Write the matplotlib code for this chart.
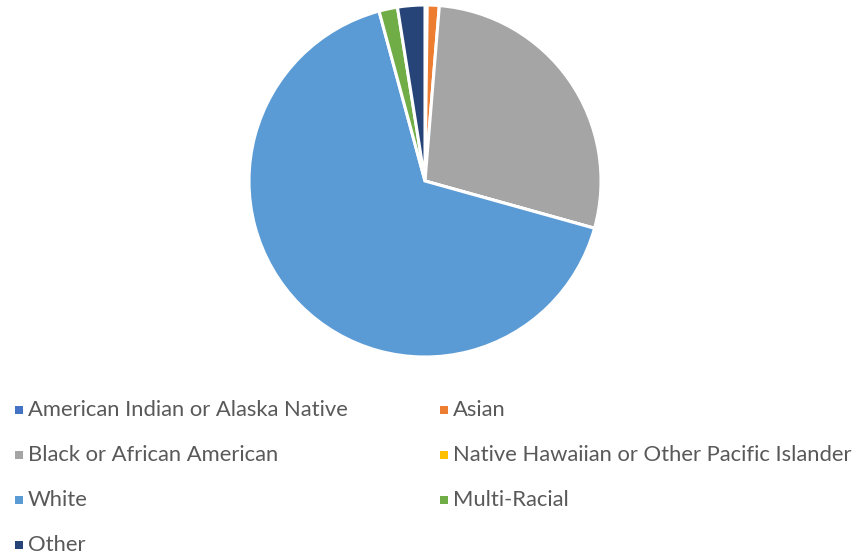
import matplotlib
matplotlib.use("Agg")
import matplotlib.pyplot as plt
from matplotlib.patches import Rectangle

categories = ["American Indian or Alaska Native", "Asian", "Black or African American",
              "Native Hawaiian or Other Pacific Islander", "White", "Multi-Racial", "Other"]
values = [0.2, 1.1, 28.0, 0.0, 66.4, 1.7, 2.5]
colors = ["#4472C4", "#ED7D31", "#A5A5A5", "#FFC000", "#5B9BD5", "#70AD47", "#264478"]

W, H = 855, 556
fig = plt.figure(figsize=(W / 100, H / 100), dpi=100)
cx, cy, r = 425, 181, 176
ax = fig.add_axes([(cx - r) / W, (H - cy - r) / H, 2 * r / W, 2 * r / H])
ax.pie(values, colors=colors, startangle=90, counterclock=False, radius=1,
       wedgeprops=dict(edgecolor="white", linewidth=2.2))
ax.set_xlim(-1, 1)
ax.set_ylim(-1, 1)
ax.set_aspect("equal")
ax.axis("off")

col_x = [15, 440]
row_y = [410, 455, 500, 545]
sq = 8
for i, (cat, col) in enumerate(zip(categories, colors)):
    rr, cc = divmod(i, 2)
    x = col_x[cc]
    y = row_y[rr]
    fig.patches.append(Rectangle((x / W, (H - y - sq / 2) / H), sq / W, sq / H,
                                 transform=fig.transFigure, facecolor=col, edgecolor="none"))
    fig.text((x + 13) / W, (H - y) / H, cat, fontsize=15.8, family="Lato",
             color="#595959", va="center", ha="left")

fig.savefig("out.png", dpi=100)
